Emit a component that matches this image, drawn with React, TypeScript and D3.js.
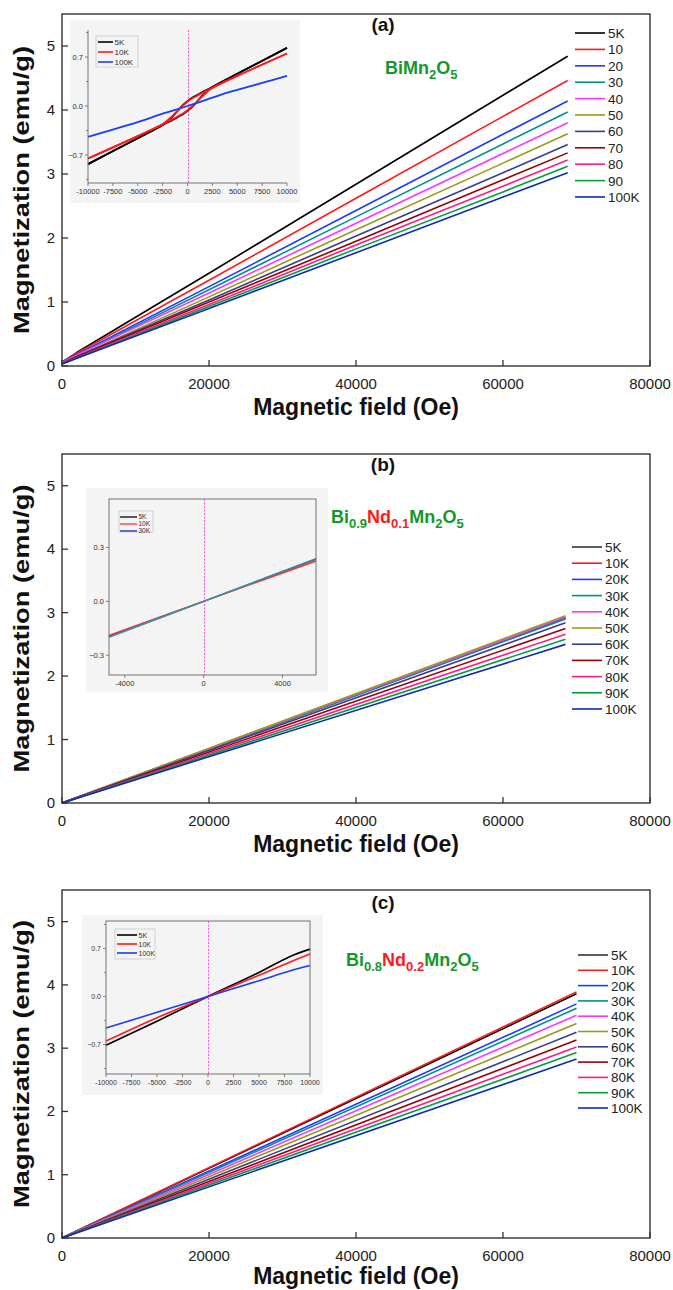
import React from "react";
import * as d3 from "d3";

// ---------- data ----------
const tempsA = ["5K", "10", "20", "30", "40", "50", "60", "70", "80", "90", "100K"];
const tempsBC = ["5K", "10K", "20K", "30K", "40K", "50K", "60K", "70K", "80K", "90K", "100K"];
const seriesColors = ["#000000", "#ff1a1a", "#1a3cff", "#00908f", "#ff33ff", "#9a9a1a", "#34408c", "#990000", "#ff1a8c", "#00a03a", "#0c2db0"];

const xTicksMain = [0, 20000, 40000, 60000, 80000];
const yTicksMain = [0, 1, 2, 3, 4, 5];

// panel (a): M vs H
const fieldA = [0, 2000, 20000, 40000, 60000, 68800];
const magA = [
  [0.06, 0.21, 1.45, 2.84, 4.23, 4.84],
  [0.06, 0.20, 1.34, 2.62, 3.90, 4.46],
  [0.05, 0.18, 1.24, 2.43, 3.62, 4.14],
  [0.05, 0.17, 1.19, 2.33, 3.47, 3.97],
  [0.05, 0.17, 1.14, 2.23, 3.32, 3.80],
  [0.04, 0.15, 1.08, 2.13, 3.17, 3.63],
  [0.04, 0.15, 1.03, 2.03, 3.02, 3.46],
  [0.04, 0.14, 1.00, 1.95, 2.91, 3.33],
  [0.04, 0.13, 0.96, 1.89, 2.81, 3.22],
  [0.03, 0.12, 0.93, 1.83, 2.72, 3.12],
  [0.03, 0.12, 0.90, 1.77, 2.64, 3.02],
];

// panel (b)
const fieldB = [0, 68500];
const magB = [
  [0, 2.92], [0, 2.91], [0, 2.92], [0, 2.90], [0, 2.93], [0, 2.95],
  [0, 2.84], [0, 2.75], [0, 2.66], [0, 2.58], [0, 2.50],
];

// panel (c)
const fieldC = [0, 70000];
const magC = [
  [0, 3.86], [0, 3.89], [0, 3.70], [0, 3.63], [0, 3.52], [0, 3.39],
  [0, 3.25], [0, 3.13], [0, 3.02], [0, 2.93], [0, 2.83],
];

// inset (a): hysteresis loops
const insetLegendA = ["5K", "10K", "100K"];
const loopFieldA = [10000, 5000, 2500, 1500, 1000, 500, 0, -500, -1000, -1500, -2500, -5000, -10000];
const mag5KDownA = [0.83, 0.46, 0.27, 0.20, 0.16, 0.12, 0.07, 0.01, -0.07, -0.15, -0.27, -0.46, -0.83];
const mag5KUpA = [0.83, 0.46, 0.27, 0.15, 0.07, -0.01, -0.07, -0.12, -0.16, -0.20, -0.27, -0.46, -0.83];
const mag10KDownA = [0.75, 0.43, 0.26, 0.19, 0.15, 0.11, 0.06, 0.0, -0.07, -0.14, -0.26, -0.43, -0.75];
const mag10KUpA = [0.75, 0.43, 0.26, 0.14, 0.07, 0.0, -0.06, -0.11, -0.15, -0.19, -0.26, -0.43, -0.75];
const field100KA = [-10000, -5000, -2500, 0, 2500, 4000, 5000, 7500, 10000];
const mag100KA = [-0.44, -0.23, -0.11, 0.0, 0.12, 0.19, 0.23, 0.33, 0.43];
const insetXTicksA = [-10000, -7500, -5000, -2500, 0, 2500, 5000, 7500, 10000];
const insetYTicksA = [-0.7, 0, 0.7];

// inset (b)
const insetLegendB = ["5K", "10K", "30K"];
const fieldInsetB = [-4800, 0, 5700];
const mag5KB = [-0.195, 0, 0.236];
const mag10KB = [-0.19, 0, 0.225];
const mag30KB = [-0.2, 0, 0.238];
const insetXTicksB = [-4000, 0, 4000];
const insetYTicksB = [-0.3, 0, 0.3];

// inset (c)
const insetLegendC = ["5K", "10K", "100K"];
const fieldInsetC = [-10000, -5000, 0, 5000, 8000, 10000];
const mag5KC = [-0.71, -0.36, 0, 0.35, 0.58, 0.69];
const mag10KC = [-0.65, -0.31, 0, 0.31, 0.50, 0.62];
const mag100KC = [-0.46, -0.23, 0, 0.23, 0.37, 0.45];
const insetXTicksC = [-10000, -7500, -5000, -2500, 0, 2500, 5000, 7500, 10000];
const insetYTicksC = [-0.7, 0, 0.7];

// ---------- layout ----------
const X0 = 62;
const X1 = 650;
const FONT = "Liberation Sans, Arial, Helvetica, sans-serif";
const GREEN = "#12992a";
const RED = "#ff1a1a";
const PINK = "#ff55dd";

type Seg = { text: string; sub?: boolean; color: string };

const zip = (xs: number[], ys: number[]) => xs.map((v, i) => [v, ys[i]] as [number, number]);

function Formula({ x, y, segs }: { x: number; y: number; segs: Seg[] }) {
  let prevSub = false;
  return (
    <text x={x} y={y} fontSize={18} fontWeight="bold" fontFamily={FONT}>
      {segs.map((s, i) => {
        const dy = s.sub && !prevSub ? 5 : !s.sub && prevSub ? -5 : 0;
        prevSub = !!s.sub;
        return (
          <tspan key={i} dy={dy} fill={s.color} fontSize={s.sub ? 13 : 18}>
            {s.text}
          </tspan>
        );
      })}
    </text>
  );
}

type InsetSeries = { pts: [number, number][]; color: string; width: number };
type InsetCfg = {
  bg: [number, number, number, number];
  plot: { l: number; r: number; t: number; b: number };
  xd: [number, number];
  yd: [number, number];
  xticks: number[];
  yticks: number[];
  minorY: number[];
  series: InsetSeries[];
  legend: { labels: string[]; colors: string[]; x0: number; x1: number; y0: number; step: number; font: number; box: [number, number, number, number] };
  fullFrame: boolean;
  tickFont: number;
};

function Inset({ c }: { c: InsetCfg }) {
  const x = d3.scaleLinear().domain(c.xd).range([c.plot.l, c.plot.r]);
  const y = d3.scaleLinear().domain(c.yd).range([c.plot.b, c.plot.t]);
  const line = d3
    .line<[number, number]>()
    .x((d) => x(d[0]))
    .y((d) => y(d[1]))
    .curve(d3.curveCatmullRom.alpha(0.5));
  const fmt = d3.format(".1f");
  const zx = Math.round(x(0)) + 0.5;
  return (
    <g>
      <rect x={c.bg[0]} y={c.bg[1]} width={c.bg[2]} height={c.bg[3]} fill="#f4f4f4" />
      <line x1={zx} x2={zx} y1={c.plot.t} y2={c.plot.b} stroke={PINK} strokeWidth={1} strokeDasharray="2,1.5" />
      {c.series.map((s, i) => (
        <path key={i} d={line(s.pts) || ""} fill="none" stroke={s.color} strokeWidth={s.width} />
      ))}
      {c.fullFrame ? (
        <rect x={c.plot.l} y={c.plot.t} width={c.plot.r - c.plot.l} height={c.plot.b - c.plot.t} fill="none" stroke="#666" strokeWidth={0.9} />
      ) : (
        <path d={`M${c.plot.l},${c.plot.t}V${c.plot.b}H${c.plot.r}`} fill="none" stroke="#666" strokeWidth={0.9} />
      )}
      {c.xticks.map((t) => (
        <g key={t}>
          <line x1={x(t)} x2={x(t)} y1={c.plot.b} y2={c.plot.b + 3} stroke="#666" strokeWidth={0.8} />
          <text x={x(t)} y={c.plot.b + 11} textAnchor="middle" fontSize={c.tickFont} fill="#333" fontFamily={FONT}>
            {t}
          </text>
        </g>
      ))}
      {c.yticks.map((t) => (
        <g key={t}>
          <line x1={c.plot.l - 3} x2={c.plot.l} y1={y(t)} y2={y(t)} stroke="#666" strokeWidth={0.8} />
          <text x={c.plot.l - 5} y={y(t) + 2.5} textAnchor="end" fontSize={c.tickFont} fill="#333" fontFamily={FONT}>
            {fmt(t)}
          </text>
        </g>
      ))}
      {c.minorY.map((t) => (
        <line key={t} x1={c.plot.l - 2} x2={c.plot.l} y1={y(t)} y2={y(t)} stroke="#666" strokeWidth={0.8} />
      ))}
      <rect x={c.legend.box[0]} y={c.legend.box[1]} width={c.legend.box[2]} height={c.legend.box[3]} fill="none" stroke="#bbb" strokeWidth={0.6} />
      {c.legend.labels.map((lab, i) => {
        const yy = c.legend.y0 + i * c.legend.step;
        return (
          <g key={lab}>
            <line x1={c.legend.x0} x2={c.legend.x1} y1={yy} y2={yy} stroke={c.legend.colors[i]} strokeWidth={1.6} />
            <text x={c.legend.x1 + 1.5} y={yy + c.legend.font * 0.36} fontSize={c.legend.font} fill="#333" fontFamily={FONT}>
              {lab}
            </text>
          </g>
        );
      })}
    </g>
  );
}

type PanelCfg = {
  tag: string;
  top: number;
  bottom: number;
  fields: number[];
  mags: number[][];
  labels: string[];
  legendColors: string[];
  legendX0: number;
  legendY0: number;
  legendStep: number;
  tagX: number;
  tagY: number;
  formula: Seg[];
  formulaX: number;
  formulaY: number;
  titleDy: number;
  inset: InsetCfg;
};

function Panel({ p }: { p: PanelCfg }) {
  const x = d3.scaleLinear().domain([0, 80000]).range([X0, X1]);
  const y = d3.scaleLinear().domain([0, 5.5]).range([p.bottom, p.top]);
  const line = d3
    .line<[number, number]>()
    .x((d) => x(d[0]))
    .y((d) => y(d[1]))
    .curve(d3.curveLinear);
  const mid = (p.top + p.bottom) / 2;
  return (
    <g>
      {p.mags.map((m, i) => (
        <path key={i} d={line(zip(p.fields, m)) || ""} fill="none" stroke={seriesColors[i]} strokeWidth={1.6} strokeLinejoin="round" />
      ))}
      <Inset c={p.inset} />
      <rect x={X0} y={p.top} width={X1 - X0} height={p.bottom - p.top} fill="none" stroke="#333" strokeWidth={1.4} />
      {xTicksMain.map((t) => (
        <g key={t}>
          <line x1={x(t)} x2={x(t)} y1={p.bottom} y2={p.bottom - 6} stroke="#333" strokeWidth={1.3} />
          <text x={x(t)} y={p.bottom + 23} textAnchor="middle" fontSize={15} fill="#222" fontFamily={FONT}>
            {t}
          </text>
        </g>
      ))}
      {yTicksMain.map((t) => (
        <g key={t}>
          <line x1={X0} x2={X0 + 6} y1={y(t)} y2={y(t)} stroke="#333" strokeWidth={1.3} />
          <text x={55} y={y(t) + 5} textAnchor="end" fontSize={15} fill="#222" fontFamily={FONT}>
            {t}
          </text>
        </g>
      ))}
      <text
        transform={`translate(29,${mid}) rotate(-90)`}
        textAnchor="middle"
        fontSize={22}
        fontWeight="bold"
        fontFamily={FONT}
        fill="#111"
        textLength={288}
        lengthAdjust="spacingAndGlyphs"
      >
        Magnetization (emu/g)
      </text>
      <text x={(X0 + X1) / 2} y={p.bottom + p.titleDy} textAnchor="middle" fontSize={23} fontWeight="bold" fontFamily={FONT} fill="#111">
        Magnetic field (Oe)
      </text>
      <text x={p.tagX} y={p.tagY} textAnchor="middle" fontSize={19} fontWeight="bold" fontFamily={FONT} fill="#111">
        {p.tag}
      </text>
      <Formula x={p.formulaX} y={p.formulaY} segs={p.formula} />
      {p.labels.map((lab, i) => {
        const yy = p.legendY0 + i * p.legendStep;
        return (
          <g key={lab}>
            <line x1={p.legendX0} x2={p.legendX0 + 30} y1={yy} y2={yy} stroke={p.legendColors[i]} strokeWidth={1.6} />
            <text x={p.legendX0 + 33} y={yy + 5} fontSize={13.5} fill="#222" fontFamily={FONT}>
              {lab}
            </text>
          </g>
        );
      })}
    </g>
  );
}

const legendColorsBC = ["#333333", ...seriesColors.slice(1)];
const insetColors = ["#000000", "#ff1a1a", "#1a3cff"];

const panels: PanelCfg[] = [
  {
    tag: "(a)",
    top: 14,
    bottom: 366,
    fields: fieldA,
    mags: magA,
    labels: tempsA,
    legendColors: seriesColors,
    legendX0: 575,
    legendY0: 33,
    legendStep: 16.4,
    tagX: 383,
    tagY: 31,
    formula: [
      { text: "BiMn", color: GREEN },
      { text: "2", sub: true, color: GREEN },
      { text: "O", color: GREEN },
      { text: "5", sub: true, color: GREEN },
    ],
    formulaX: 385,
    formulaY: 74,
    titleDy: 49,
    inset: {
      bg: [70, 20, 230, 183],
      plot: { l: 88, r: 287, t: 30, b: 183 },
      xd: [-10000, 10000],
      yd: [-1.1, 1.086],
      xticks: insetXTicksA,
      yticks: insetYTicksA,
      minorY: [-1.05, -0.35, 0.35, 1.05],
      series: [
        { pts: zip(loopFieldA, mag5KDownA), color: insetColors[0], width: 1.8 },
        { pts: zip(loopFieldA, mag5KUpA), color: insetColors[0], width: 1.8 },
        { pts: zip(loopFieldA, mag10KDownA), color: insetColors[1], width: 1.8 },
        { pts: zip(loopFieldA, mag10KUpA), color: insetColors[1], width: 1.8 },
        { pts: zip(field100KA, mag100KA), color: insetColors[2], width: 1.8 },
      ],
      legend: { labels: insetLegendA, colors: insetColors, x0: 98, x1: 113, y0: 42, step: 10, font: 8, box: [96, 36, 42, 31] },
      fullFrame: false,
      tickFont: 7.5,
    },
  },
  {
    tag: "(b)",
    top: 454,
    bottom: 803,
    fields: fieldB,
    mags: magB,
    labels: tempsBC,
    legendColors: legendColorsBC,
    legendX0: 572,
    legendY0: 547,
    legendStep: 16.2,
    tagX: 383,
    tagY: 471,
    formula: [
      { text: "Bi", color: GREEN },
      { text: "0.9", sub: true, color: GREEN },
      { text: "Nd", color: RED },
      { text: "0.1", sub: true, color: RED },
      { text: "Mn", color: GREEN },
      { text: "2", sub: true, color: GREEN },
      { text: "O", color: GREEN },
      { text: "5", sub: true, color: GREEN },
    ],
    formulaX: 331,
    formulaY: 523,
    titleDy: 49,
    inset: {
      bg: [86, 488, 242, 204],
      plot: { l: 109, r: 316, t: 499, b: 675 },
      xd: [-4800, 5700],
      yd: [-0.41, 0.57],
      xticks: insetXTicksB,
      yticks: insetYTicksB,
      minorY: [],
      series: [
        { pts: zip(fieldInsetB, mag5KB), color: "#333333", width: 1.5 },
        { pts: zip(fieldInsetB, mag10KB), color: "#ff2a2a", width: 1.5 },
        { pts: zip(fieldInsetB, mag30KB), color: "#2a9ab8", width: 1.5 },
      ],
      legend: { labels: insetLegendB, colors: ["#333333", "#ff5555", "#2a4fd8"], x0: 120, x1: 137, y0: 517, step: 7, font: 6.5, box: [119, 511, 34, 21] },
      fullFrame: true,
      tickFont: 7.5,
    },
  },
  {
    tag: "(c)",
    top: 890,
    bottom: 1238,
    fields: fieldC,
    mags: magC,
    labels: tempsBC,
    legendColors: legendColorsBC,
    legendX0: 578,
    legendY0: 955,
    legendStep: 15.3,
    tagX: 383,
    tagY: 909,
    formula: [
      { text: "Bi", color: GREEN },
      { text: "0.8", sub: true, color: GREEN },
      { text: "Nd", color: RED },
      { text: "0.2", sub: true, color: RED },
      { text: "Mn", color: GREEN },
      { text: "2", sub: true, color: GREEN },
      { text: "O", color: GREEN },
      { text: "5", sub: true, color: GREEN },
    ],
    formulaX: 346,
    formulaY: 966,
    titleDy: 46,
    inset: {
      bg: [82, 915, 241, 180],
      plot: { l: 106, r: 310, t: 921, b: 1074 },
      xd: [-10000, 10000],
      yd: [-1.13, 1.1],
      xticks: insetXTicksC,
      yticks: insetYTicksC,
      minorY: [-1.05, -0.35, 0.35, 1.05],
      series: [
        { pts: zip(fieldInsetC, mag5KC), color: insetColors[0], width: 1.6 },
        { pts: zip(fieldInsetC, mag10KC), color: insetColors[1], width: 1.6 },
        { pts: zip(fieldInsetC, mag100KC), color: insetColors[2], width: 1.6 },
      ],
      legend: { labels: insetLegendC, colors: insetColors, x0: 117, x1: 137, y0: 935, step: 9, font: 7, box: [115, 929, 40, 30] },
      fullFrame: true,
      tickFont: 7,
    },
  },
];

export default function App() {
  return (
    <svg width={673} height={1290} style={{ position: "absolute", left: 0, top: 0, background: "#fff" }} fontFamily={FONT}>
      <rect x={0} y={0} width={673} height={1290} fill="#fff" />
      {panels.map((p) => (
        <Panel key={p.tag} p={p} />
      ))}
    </svg>
  );
}
